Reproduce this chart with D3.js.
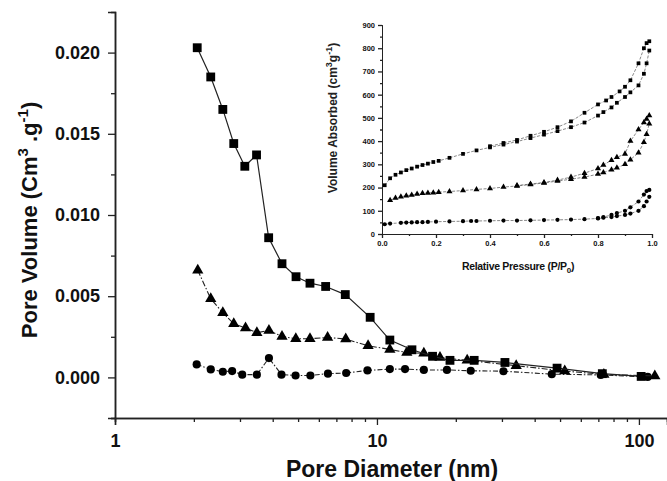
<!DOCTYPE html>
<html>
<head>
<meta charset="utf-8">
<script src="https://cdn.jsdelivr.net/npm/d3@7"></script>
<style>
  body { margin: 0; background: #fff; }
  svg { display: block; font-family: "Liberation Sans", Arial, sans-serif; }
</style>
</head>
<body>
<div id="chart"></div>
<script>
// main plot: pore size distribution (BJH)
const squareDiam = [2.06, 2.32, 2.58, 2.84, 3.13, 3.47, 3.86, 4.34, 4.91, 5.55, 6.37, 7.57, 9.42, 11.2, 13.6, 16.3, 19.0, 23.5, 30.8, 48.7, 72.5, 102];
const squareVol = [0.0203, 0.0185, 0.0165, 0.0144, 0.0130, 0.0137, 0.0086, 0.0070, 0.0062, 0.0058, 0.0056, 0.0051, 0.0037, 0.0023, 0.0017, 0.0013, 0.00105, 0.00105, 0.00092, 0.00057, 0.00023, 0.00006];

const triDiam = [2.07, 2.32, 2.58, 2.84, 3.15, 3.48, 3.87, 4.34, 4.9, 5.55, 6.48, 7.6, 9.25, 11.2, 13.0, 15.1, 17.4, 22.1, 34.0, 52.1, 73.5, 115];
const triVol = [0.0066, 0.00484, 0.00398, 0.0033, 0.00304, 0.00275, 0.00289, 0.00252, 0.00238, 0.00238, 0.00246, 0.00236, 0.00195, 0.00172, 0.00153, 0.00148, 0.00122, 0.00105, 0.00072, 0.00039, 0.00018, 0.00009];

const circDiam = [2.05, 2.32, 2.58, 2.8, 3.06, 3.48, 3.87, 4.32, 4.89, 5.57, 6.5, 7.63, 9.2, 11.2, 12.8, 15.1, 18.5, 22.8, 30.4, 46.5, 71.5, 108];
const circVol = [0.0008, 0.00049, 0.00035, 0.00039, 0.00017, 0.00017, 0.00119, 0.00017, 0.00012, 0.00012, 0.00023, 0.00027, 0.00043, 0.00051, 0.00051, 0.00046, 0.00046, 0.00041, 0.00038, 0.0002, 0.00015, 0.00003];

const yMajorTicks = [0, 0.005, 0.010, 0.015, 0.020];
const yMinorTicks = [-0.0025, 0.0025, 0.0075, 0.0125, 0.0175];
const xMajorTicks = [1, 10, 100];
const xMinorTicks = [2, 3, 4, 5, 6, 7, 8, 9, 20, 30, 40, 50, 60, 70, 80, 90];

// inset: N2 isotherms (adsorption / desorption branches)
const sqAdsP = [0.01, 0.03, 0.05, 0.07, 0.09, 0.11, 0.13, 0.15, 0.17, 0.19, 0.21, 0.25, 0.3, 0.35, 0.4, 0.45, 0.5, 0.55, 0.6, 0.65, 0.7, 0.75, 0.8, 0.82, 0.85, 0.87, 0.9, 0.92, 0.95, 0.97, 0.98, 0.99];
const sqAdsV = [210, 240, 255, 265, 275, 282, 290, 297, 303, 310, 315, 328, 345, 360, 373, 385, 398, 413, 428, 443, 460, 480, 510, 525, 545, 565, 590, 610, 640, 690, 735, 790];
const sqDesP = [0.99, 0.98, 0.97, 0.95, 0.92, 0.9, 0.88, 0.85, 0.83, 0.8, 0.75, 0.7, 0.65, 0.6, 0.55, 0.5, 0.45, 0.4];
const sqDesV = [830, 822, 800, 735, 662, 634, 614, 590, 575, 558, 522, 485, 460, 440, 423, 405, 392, 378];

const triAdsP = [0.03, 0.05, 0.07, 0.09, 0.11, 0.13, 0.15, 0.17, 0.19, 0.21, 0.25, 0.3, 0.35, 0.4, 0.45, 0.5, 0.55, 0.6, 0.65, 0.7, 0.75, 0.8, 0.82, 0.85, 0.87, 0.9, 0.92, 0.95, 0.97, 0.98, 0.99];
const triAdsV = [145, 155, 160, 165, 168, 172, 175, 177, 178, 180, 183, 187, 192, 196, 202, 207, 213, 220, 228, 236, 245, 258, 265, 277, 285, 300, 320, 350, 395, 430, 475];
const triDesP = [0.99, 0.98, 0.97, 0.95, 0.92, 0.9, 0.87, 0.85, 0.82, 0.8, 0.75, 0.7, 0.65, 0.6, 0.55, 0.5];
const triDesV = [510, 495, 480, 450, 400, 345, 330, 318, 297, 282, 262, 245, 232, 222, 215, 209];

const ciAdsP = [0.01, 0.03, 0.07, 0.09, 0.11, 0.13, 0.15, 0.17, 0.2, 0.25, 0.3, 0.33, 0.35, 0.4, 0.45, 0.5, 0.55, 0.6, 0.65, 0.7, 0.75, 0.8, 0.82, 0.85, 0.87, 0.9, 0.92, 0.95, 0.97, 0.98, 0.99];
const ciAdsV = [42, 45, 48, 49, 50, 51, 51, 52, 53, 54, 55, 56, 56, 57, 58, 58, 59, 60, 61, 62, 64, 67, 70, 73, 77, 82, 88, 100, 120, 140, 160];
const ciDesP = [0.99, 0.98, 0.97, 0.95, 0.92, 0.9, 0.87, 0.85, 0.82, 0.8];
const ciDesV = [190, 185, 170, 140, 115, 100, 90, 82, 73, 68];

const inYMajor = [0, 100, 200, 300, 400, 500, 600, 700, 800, 900];
const inYMinor = [50, 150, 250, 350, 450, 550, 650, 750, 850];
const inXMajor = [0, 0.2, 0.4, 0.6, 0.8, 1.0];
const inXMinor = [0.1, 0.3, 0.5, 0.7, 0.9];

const width = 667;
const height = 481;

const svg = d3.select("#chart")
  .append("svg")
  .attr("width", width)
  .attr("height", height);

// ---------- main chart ----------
const x = d3.scaleLog().domain([1, 128]).range([115, 667]);
const y = d3.scaleLinear().domain([-0.0025, 0.0225]).range([418, 12]);

function styleAxis(g, fontSize) {
  g.select(".domain").attr("stroke", "#222").attr("stroke-width", 1.5);
  g.selectAll(".tick line").attr("stroke", "#222").attr("stroke-width", 1.3);
  g.selectAll(".tick text")
    .attr("font-size", fontSize)
    .attr("font-weight", "bold")
    .attr("fill", "#111")
    .attr("font-family", "'Liberation Sans', Arial, sans-serif");
}

const yAxis = svg.append("g")
  .attr("transform", "translate(115,0)")
  .call(d3.axisLeft(y).tickValues(yMajorTicks).tickFormat(d3.format(".3f")).tickSize(7).tickPadding(8));
styleAxis(yAxis, 18);

const yMinor = svg.append("g")
  .attr("transform", "translate(115,0)")
  .call(d3.axisLeft(y).tickValues(yMinorTicks).tickFormat("").tickSize(4));
styleAxis(yMinor, 0);

const xAxis = svg.append("g")
  .attr("transform", "translate(0,418)")
  .call(d3.axisBottom(x).tickValues(xMajorTicks).tickFormat(d3.format("d")).tickSize(7).tickPadding(9));
styleAxis(xAxis, 18);

const xMinor = svg.append("g")
  .attr("transform", "translate(0,418)")
  .call(d3.axisBottom(x).tickValues(xMinorTicks).tickFormat("").tickSize(4));
styleAxis(xMinor, 0);

svg.append("text")
  .attr("x", 392)
  .attr("y", 477)
  .attr("text-anchor", "middle")
  .attr("font-size", 23)
  .attr("font-weight", "bold")
  .attr("fill", "#111")
  .text("Pore Diameter (nm)");

const yTitle = svg.append("text")
  .attr("transform", "translate(37,220) rotate(-90)")
  .attr("text-anchor", "middle")
  .attr("font-size", 22)
  .attr("font-weight", "bold")
  .attr("fill", "#111");
yTitle.append("tspan").text("Pore Volume (Cm");
yTitle.append("tspan").attr("dy", -9).attr("font-size", 15).text("3");
yTitle.append("tspan").attr("dy", 9).text(" .g");
yTitle.append("tspan").attr("dy", -9).attr("font-size", 15).text("-1");
yTitle.append("tspan").attr("dy", 9).text(")");

function drawSeries(group, xs, ys, sx, sy, symbolType, size, dash, lineWidth, color) {
  const pts = xs.map((d, i) => [sx(d), sy(ys[i])]);
  group.append("path")
    .attr("d", d3.line()(pts))
    .attr("fill", "none")
    .attr("stroke", color)
    .attr("stroke-width", lineWidth)
    .attr("stroke-dasharray", dash);
  group.selectAll(null)
    .data(pts)
    .enter()
    .append("path")
    .attr("transform", d => `translate(${d[0]},${d[1]})`)
    .attr("d", d3.symbol().type(symbolType).size(size))
    .attr("fill", "#000");
}

const main = svg.append("g");
drawSeries(main, circDiam, circVol, x, y, d3.symbolCircle, 52, "5,2,1.5,2", 1.1, "#222");
drawSeries(main, triDiam, triVol, x, y, d3.symbolTriangle, 55, "6,2,1.5,2", 1.1, "#222");
drawSeries(main, squareDiam, squareVol, x, y, d3.symbolSquare, 78, null, 1.2, "#222");

// ---------- inset ----------
const ix = d3.scaleLinear().domain([0, 1]).range([382, 652]);
const iy = d3.scaleLinear().domain([0, 900]).range([234, 25]);

const iyAxis = svg.append("g")
  .attr("transform", "translate(382,0)")
  .call(d3.axisLeft(iy).tickValues(inYMajor).tickFormat(d3.format("d")).tickSize(4).tickPadding(3));
styleAxis(iyAxis, 7.5);
iyAxis.select(".domain").attr("stroke-width", 1);

const iyMinor = svg.append("g")
  .attr("transform", "translate(382,0)")
  .call(d3.axisLeft(iy).tickValues(inYMinor).tickFormat("").tickSize(2));
styleAxis(iyMinor, 0);
iyMinor.select(".domain").attr("stroke-width", 1);

const ixAxis = svg.append("g")
  .attr("transform", "translate(0,234)")
  .call(d3.axisBottom(ix).tickValues(inXMajor).tickFormat(d3.format(".1f")).tickSize(4).tickPadding(3));
styleAxis(ixAxis, 7.5);
ixAxis.select(".domain").attr("stroke-width", 1);

const ixMinor = svg.append("g")
  .attr("transform", "translate(0,234)")
  .call(d3.axisBottom(ix).tickValues(inXMinor).tickFormat("").tickSize(2));
styleAxis(ixMinor, 0);
ixMinor.select(".domain").attr("stroke-width", 1);

const iyTitle = svg.append("text")
  .attr("transform", "translate(337,118) rotate(-90)")
  .attr("text-anchor", "middle")
  .attr("font-size", 12)
  .attr("font-weight", "bold")
  .attr("fill", "#222");
iyTitle.append("tspan").text("Volume Absorbed (cm");
iyTitle.append("tspan").attr("dy", -5).attr("font-size", 9).text("3");
iyTitle.append("tspan").attr("dy", 5).text("g");
iyTitle.append("tspan").attr("dy", -5).attr("font-size", 9).text("-1");
iyTitle.append("tspan").attr("dy", 5).text(")");

const ixTitle = svg.append("text")
  .attr("x", 518)
  .attr("y", 270)
  .attr("text-anchor", "middle")
  .attr("font-size", 10.5)
  .attr("font-weight", "bold")
  .attr("letter-spacing", -0.3)
  .attr("fill", "#111");
ixTitle.append("tspan").text("Relative Pressure (P/P");
ixTitle.append("tspan").attr("dy", 3).attr("font-size", 8).text("0");
ixTitle.append("tspan").attr("dy", -3).text(")");

const inset = svg.append("g");
drawSeries(inset, sqAdsP, sqAdsV, ix, iy, d3.symbolSquare, 14, "3,1.5", 0.7, "#555");
drawSeries(inset, sqDesP, sqDesV, ix, iy, d3.symbolSquare, 14, "3,1.5", 0.7, "#555");
drawSeries(inset, triAdsP, triAdsV, ix, iy, d3.symbolTriangle, 16, "3,1.5", 0.7, "#555");
drawSeries(inset, triDesP, triDesV, ix, iy, d3.symbolTriangle, 16, "3,1.5", 0.7, "#555");
drawSeries(inset, ciAdsP, ciAdsV, ix, iy, d3.symbolCircle, 14, "3,1.5", 0.7, "#555");
drawSeries(inset, ciDesP, ciDesV, ix, iy, d3.symbolCircle, 14, "3,1.5", 0.7, "#555");
</script>
</body>
</html>
